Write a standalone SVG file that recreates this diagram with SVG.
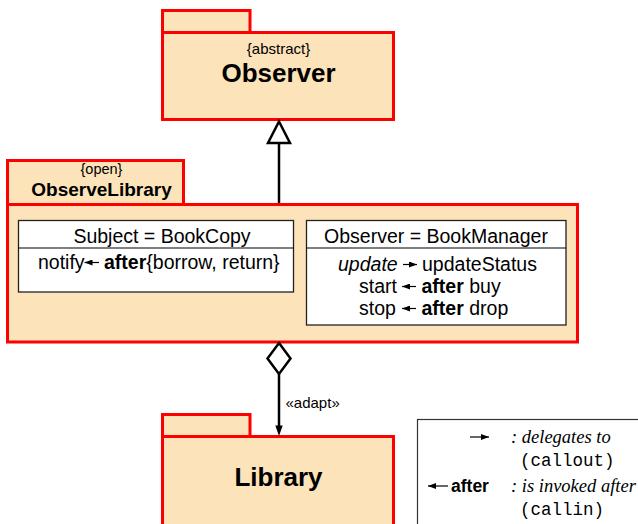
<svg xmlns="http://www.w3.org/2000/svg" width="638" height="524" viewBox="0 0 638 524">
  <style>
    .pkg { fill: #fde3b9; stroke: #ff0000; stroke-width: 3; }
    .cls { fill: #ffffff; stroke: #222222; stroke-width: 1.3; }
    .sans { font-family: "Liberation Sans", Arial, sans-serif; fill: #000000; }
    .tag { font-size: 15px; }
    .big { font-size: 26px; font-weight: bold; }
    .body { font-size: 19.5px; }
    .b { font-weight: bold; }
    .i { font-style: italic; }
    .edge { stroke: #000000; stroke-width: 2.5; fill: none; }
    .tiny { stroke: #000000; stroke-width: 1.2; }
    .serif { font-family: "Liberation Serif", "Times New Roman", serif; font-style: italic; font-size: 18.5px; }
    .mono { font-family: "Liberation Mono", "Courier New", monospace; font-size: 17.5px; }
  </style>
  <defs>
    <!-- small filled head used by the inline arrows -->
    <marker id="head" viewBox="0 0 8 6" refX="8" refY="3" markerWidth="8" markerHeight="6" markerUnits="userSpaceOnUse" orient="auto">
      <path d="M0,0 L8,3 L0,6 Z" fill="#000000"/>
    </marker>
  </defs>

  <!-- Observer package -->
  <g id="observer">
    <rect class="pkg" x="162.5" y="10.5" width="87.5" height="22"/>
    <rect class="pkg" x="162.5" y="32.5" width="231" height="87"/>
    <text class="sans tag" x="278.5" y="54" text-anchor="middle">{abstract}</text>
    <text class="sans big" x="278.5" y="82" text-anchor="middle">Observer</text>
  </g>

  <!-- ObserveLibrary package with its two role bindings -->
  <g id="observe-library">
    <rect class="pkg" x="7.5" y="160.5" width="176" height="44"/>
    <rect class="pkg" x="7.5" y="204.5" width="570" height="137.5"/>
    <text class="sans" x="101.5" y="174" text-anchor="middle" font-size="14.5">{open}</text>
    <text class="sans b" x="101.5" y="196" text-anchor="middle" font-size="19">ObserveLibrary</text>
  </g>

  <g id="subject-binding">
    <rect class="cls" x="18.5" y="220.5" width="275" height="71.5"/>
    <line class="tiny" x1="18.5" y1="248" x2="293.5" y2="248" stroke-width="1.3"/>
    <text class="sans body" x="162" y="243" text-anchor="middle">Subject = BookCopy</text>
    <text class="sans body" x="38" y="269">notify</text>
    <line class="tiny" x1="99" y1="262.5" x2="84.5" y2="262.5" marker-end="url(#head)"/>
    <text class="sans body" x="104" y="269"><tspan class="b">after</tspan>{borrow, return}</text>
  </g>

  <g id="observer-binding">
    <rect class="cls" x="306.5" y="220.5" width="259.5" height="104.5"/>
    <line class="tiny" x1="306.5" y1="248" x2="566" y2="248" stroke-width="1.3"/>
    <text class="sans body" x="436" y="243" text-anchor="middle">Observer = BookManager</text>
    <text class="sans body i" x="338" y="271">update</text>
    <line class="tiny" x1="403" y1="264.5" x2="417" y2="264.5" marker-end="url(#head)"/>
    <text class="sans body" x="422" y="271">updateStatus</text>
    <text class="sans body" x="359" y="293">start</text>
    <line class="tiny" x1="416" y1="286.5" x2="402" y2="286.5" marker-end="url(#head)"/>
    <text class="sans body" x="421.5" y="293"><tspan class="b">after</tspan> buy</text>
    <text class="sans body" x="359" y="315">stop</text>
    <line class="tiny" x1="416" y1="308.5" x2="402" y2="308.5" marker-end="url(#head)"/>
    <text class="sans body" x="421.5" y="315"><tspan class="b">after</tspan> drop</text>
  </g>

  <!-- Library package -->
  <g id="library">
    <rect class="pkg" x="162.5" y="414.5" width="87.5" height="22"/>
    <rect class="pkg" x="162.5" y="436.5" width="231" height="100"/>
    <text class="sans big" x="278.5" y="486" text-anchor="middle">Library</text>
  </g>

  <!-- Relations between the packages -->
  <g id="connectors">
    <line class="edge" x1="279" y1="143" x2="279" y2="203"/>
    <polygon class="edge" points="279,121.5 290,143 268,143" fill="#ffffff"/>
    <polygon class="edge" points="279,343 290.5,358.5 279,374 267.5,358.5" fill="#ffffff"/>
    <line class="edge" x1="279" y1="374" x2="279" y2="428"/>
    <polygon points="279,436 275.3,425.5 282.7,425.5" fill="#000000"/>
    <text class="sans tag" x="285.5" y="408">«adapt»</text>
  </g>

  <!-- Legend -->
  <g id="legend">
    <rect x="417.5" y="419.5" width="230" height="120" fill="#ffffff" stroke="#333333" stroke-width="1.2"/>
    <line class="tiny" x1="470" y1="437" x2="489" y2="437" marker-end="url(#head)"/>
    <text class="serif" x="511" y="443">: delegates to</text>
    <text class="mono" x="520" y="466">(callout)</text>
    <line class="tiny" x1="448" y1="486" x2="428" y2="486" marker-end="url(#head)"/>
    <text class="sans b" x="451" y="492" font-size="17.5">after</text>
    <text class="serif" x="511" y="492">: is invoked after</text>
    <text class="mono" x="520" y="515">(callin)</text>
  </g>
</svg>
